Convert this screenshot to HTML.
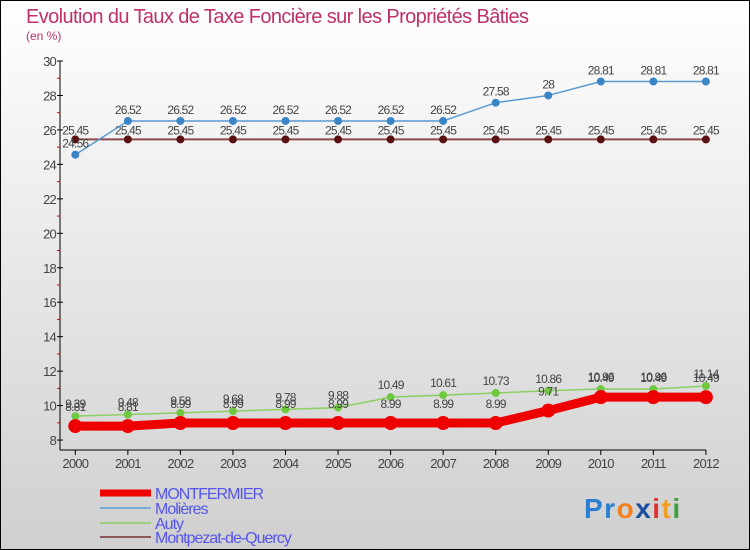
<!DOCTYPE html>
<html><head><meta charset="utf-8"><style>
body{margin:0;width:750px;height:550px;overflow:hidden;font-family:"Liberation Sans",sans-serif}
svg{display:block}
</style></head><body>
<svg id="chart" width="750" height="550" xmlns="http://www.w3.org/2000/svg">
<defs><linearGradient id="bg" x1="0" y1="0" x2="0" y2="1"><stop offset="0" stop-color="#ffffff"/><stop offset="1" stop-color="#cfcfcf"/></linearGradient></defs>
<rect x="0.5" y="0.5" width="749" height="549" fill="url(#bg)" stroke="#000"/>
<text x="26" y="23" font-size="20" fill="#c0306a" letter-spacing="-0.6">Evolution du Taux de Taxe Foncière sur les Propriétés Bâties</text>
<text x="26" y="40" font-size="12" fill="#c0306a">(en %)</text>
<g id="axes"></g><g id="series"></g><g id="legend"></g>
<text x="584" y="518" font-size="28" font-weight="bold" letter-spacing="1.5"><tspan fill="#2a7fd0">Pr</tspan><tspan fill="#f08020">o</tspan><tspan fill="#1a4fa0">x</tspan><tspan fill="#e03030">i</tspan><tspan fill="#f0a020">t</tspan><tspan fill="#40a040">i</tspan></text>
</svg>
<script>
const years=[2000,2001,2002,2003,2004,2005,2006,2007,2008,2009,2010,2011,2012];
const yTicks=[8,10,12,14,16,18,20,22,24,26,28,30];
const montfermier=[8.81,8.81,8.99,8.99,8.99,8.99,8.99,8.99,8.99,9.71,10.49,10.49,10.49];
const molieres=[24.56,26.52,26.52,26.52,26.52,26.52,26.52,26.52,27.58,28,28.81,28.81,28.81];
const auty=[9.39,9.48,9.58,9.68,9.78,9.88,10.49,10.61,10.73,10.86,10.96,10.96,11.14];
const montpezat=[25.45,25.45,25.45,25.45,25.45,25.45,25.45,25.45,25.45,25.45,25.45,25.45,25.45];
const seriesNames=["MONTFERMIER","Molières","Auty","Montpezat-de-Quercy"];
const NS="http://www.w3.org/2000/svg";
const X=i=>75.3+i*52.55;
const Y=v=>61+(30-v)*17.23;
function mk(tag,attrs,parent,txt){const e=document.createElementNS(NS,tag);for(const k in attrs)e.setAttribute(k,attrs[k]);if(txt!==undefined)e.textContent=txt;parent.appendChild(e);return e;}
const axes=document.getElementById('axes');
let yl=mk('line',{x1:60,y1:61,x2:60,y2:450,stroke:'#000'},axes);


let xl=mk('line',{x1:60,y1:450,x2:X(12),y2:450,stroke:'#000'},axes);


yTicks.forEach(v=>{
  mk('line',{x1:57,y1:Y(v),x2:63,y2:Y(v),stroke:'#000'},axes);
  if(v<30) mk('line',{x1:57,y1:Y(v+1),x2:60,y2:Y(v+1),stroke:'#e00000'},axes);
  const t=mk('text',{x:56,y:Y(v)+5,'font-size':13,fill:'#444','text-anchor':'end','letter-spacing':'-0.8'},axes,String(v));
  
  
});
years.forEach((yr,i)=>{
  mk('line',{x1:X(i),y1:450,x2:X(i),y2:455,stroke:'#000'},axes);
  const t=mk('text',{x:X(i),y:468,'font-size':13,fill:'#444','text-anchor':'middle','letter-spacing':'-0.8'},axes,String(yr));
  
  
});
const sg=document.getElementById('series');
function draw(vals,name,color,w,r,dotColor,labelDy){
  const g=mk('g',{},sg);
  
  
  mk('polyline',{points:vals.map((v,i)=>X(i)+','+Y(v)).join(' '),fill:'none',stroke:color,'stroke-width':w,'stroke-linejoin':'round'},g);
  vals.forEach((v,i)=>{
    const c=mk('circle',{cx:X(i),cy:Y(v),r:r,fill:dotColor},g);
    
    
    mk('text',{x:X(i),y:Y(v)+labelDy,'font-size':12,fill:'#444','text-anchor':'middle','letter-spacing':'-0.8'},g,String(v));
  });
}
draw(montpezat,'montpezat','#8a4a4a',2,4,'#5a1010',-5);
draw(molieres,'molieres','#5a9ad0',1.5,4,'#3a85c5',-7);
draw(auty,'auty','#8ad060',1.5,4,'#70c840',-8);
draw(montfermier,'montfermier','#ee0000',9,7,'#ee0000',-15);
const lg=document.getElementById('legend');
const lc=['#ee0000','#7aaad0','#99d07a','#8a5a5a'],lw=[7,2,2,2],ly=[493,508,523,537];
seriesNames.forEach((n,i)=>{
  const g=mk('g',{},lg);
  
  
  mk('line',{x1:100,y1:ly[i],x2:151,y2:ly[i],stroke:lc[i],'stroke-width':lw[i]},g);
  mk('text',{x:155,y:ly[i]+6,'font-size':16,fill:'#5555ee','letter-spacing':'-1'},g,n);
});
</script>
</body></html>
